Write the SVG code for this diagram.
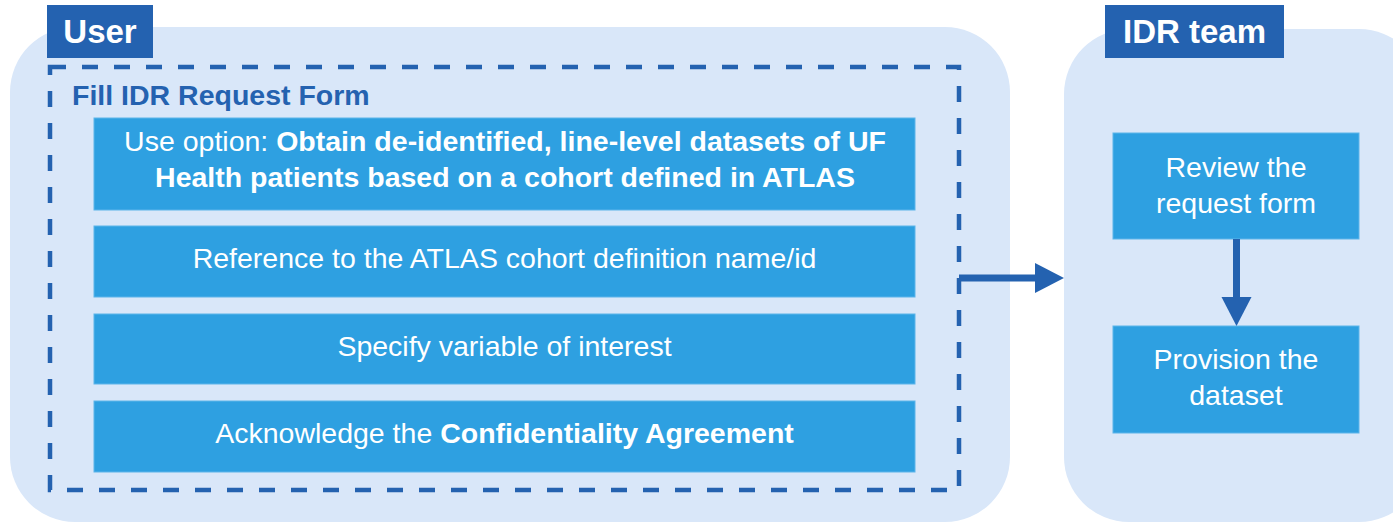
<svg xmlns="http://www.w3.org/2000/svg" width="1393" height="523" viewBox="0 0 1393 523">
<style>
.lane{fill:#D9E7F9;}
.lbl{fill:#2462B0;}
.lbltxt{font-family:"Liberation Sans",Arial,sans-serif;font-weight:bold;font-size:33px;fill:#fff;text-anchor:middle;}
.box{fill:#2EA0E1;stroke:#5CB5EA;stroke-width:1;}
.t{font-family:"Liberation Sans",Arial,sans-serif;font-size:28.5px;fill:#fff;text-anchor:middle;}
.b{font-weight:bold;}
.dash{fill:none;stroke:#2462B0;stroke-width:4.5;stroke-dasharray:16 16;}
.title{font-family:"Liberation Sans",Arial,sans-serif;font-weight:bold;font-size:28.5px;fill:#2462B0;}
.conn{stroke:#2462B0;stroke-width:7;fill:none;}
.head{fill:#2462B0;}
</style>
<g id="user-lane">
<rect class="lane" x="10" y="27" width="1000" height="495" rx="65" ry="65"/>
<rect class="lbl" x="47" y="5" width="106" height="53"/>
<text class="lbltxt" x="100" y="43">User</text>
</g>
<g id="idr-lane">
<rect class="lane" x="1064" y="29" width="360" height="493" rx="65" ry="65"/>
<rect class="lbl" x="1105" y="5" width="179" height="53"/>
<text class="lbltxt" x="1194.5" y="43">IDR team</text>
</g>
<g id="fill-form">
<rect class="dash" x="50" y="67" width="909" height="423"/>
<text class="title" x="72" y="105">Fill IDR Request Form</text>
</g>
<g id="use-option">
<rect class="box" x="94" y="118" width="821" height="92"/>
<text class="t" x="505" y="151">Use option: <tspan class="b">Obtain de-identified, line-level datasets of UF</tspan></text>
<text class="t b" x="505" y="187">Health patients based on a cohort defined in ATLAS</text>
</g>
<g id="reference">
<rect class="box" x="94" y="226" width="821" height="71"/>
<text class="t" x="504.5" y="268">Reference to the ATLAS cohort definition name/id</text>
</g>
<g id="specify">
<rect class="box" x="94" y="314" width="821" height="70"/>
<text class="t" x="504.5" y="356">Specify variable of interest</text>
</g>
<g id="acknowledge">
<rect class="box" x="94" y="401" width="821" height="71"/>
<text class="t" x="504.5" y="443">Acknowledge the <tspan class="b">Confidentiality Agreement</tspan></text>
</g>
<g id="review">
<rect class="box" x="1113" y="133" width="246" height="106"/>
<text class="t" x="1236" y="177">Review the</text>
<text class="t" x="1236" y="213">request form</text>
</g>
<g id="provision">
<rect class="box" x="1113" y="326" width="246" height="107"/>
<text class="t" x="1236" y="369">Provision the</text>
<text class="t" x="1236" y="405">dataset</text>
</g>
<g id="connectors">
<line class="conn" x1="959" y1="278" x2="1037" y2="278"/>
<polygon class="head" points="1035,263 1064,278 1035,293"/>
<line class="conn" x1="1236.5" y1="239" x2="1236.5" y2="299"/>
<polygon class="head" points="1221.5,297 1251.5,297 1236.5,326"/>
</g>
</svg>
